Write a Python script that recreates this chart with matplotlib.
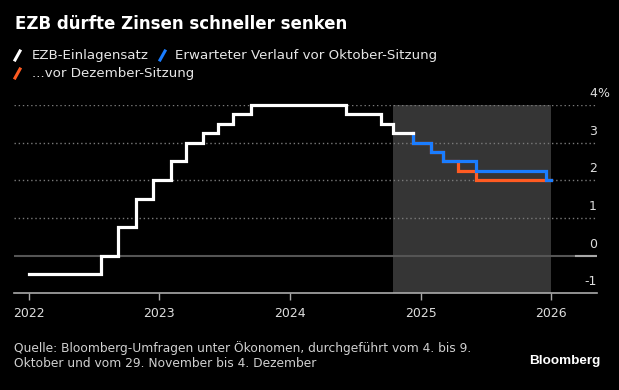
import pandas as pd
import matplotlib
matplotlib.use("Agg")
import matplotlib.pyplot as plt
import matplotlib.dates as mdates
from matplotlib.lines import Line2D

# ECB deposit rate, changes at meeting dates (%)
ecb_dates = ["2022-01-01", "2022-07-21", "2022-09-08", "2022-10-27", "2022-12-15",
             "2023-02-02", "2023-03-16", "2023-05-04", "2023-06-15", "2023-07-27",
             "2023-09-14", "2024-06-06", "2024-09-12", "2024-10-17", "2024-12-12"]
ecb_rate = [-0.5, 0.0, 0.75, 1.5, 2.0, 2.5, 3.0, 3.25, 3.5, 3.75, 4.0, 3.75, 3.5, 3.25, 3.25]

# expected path, survey before October meeting
oct_dates = ["2024-12-12", "2025-01-30", "2025-03-06", "2025-06-05", "2025-12-18"]
oct_rate = [3.0, 2.75, 2.5, 2.25, 2.0]

# expected path, survey before December meeting
dec_dates = ["2024-12-12", "2025-01-30", "2025-03-06", "2025-04-17", "2025-06-05"]
dec_rate = [3.0, 2.75, 2.5, 2.25, 2.0]

forecast_end = "2026-01-01"
shade_start = "2024-10-17"
shade_end = "2026-01-01"

yticks = [-1, 0, 1, 2, 3, 4]
xyears = [2022, 2023, 2024, 2025, 2026]

WHITE = "#ffffff"
BLUE = "#1a7dff"
ORANGE = "#ff5b22"
W, H = 619, 390

plt.rcParams["font.family"] = ["DejaVu Sans"]

fig = plt.figure(figsize=(W / 100, H / 100), dpi=100, facecolor="black")
ax = fig.add_axes([14 / W, 1 - 293.3 / H, 583 / W, 188.3 / H])
ax.set_facecolor("black")

# shaded forecast period
ax.axvspan(pd.Timestamp(shade_start), pd.Timestamp(shade_end), color="#353535", lw=0, zorder=0)

# grid
for v in yticks[2:]:
    ax.axhline(v, color="#7a7a7a", lw=1, ls=(0, (1, 2)), zorder=1)
ax.axhline(0, color="#555555", lw=1.5, zorder=1)
ax.axhline(0, xmin=0.964, xmax=1, color="#a8a8a8", lw=1.5, zorder=1)

# series
x_ecb = pd.to_datetime(ecb_dates)
ax.plot(x_ecb, ecb_rate, drawstyle="steps-post", color=WHITE, lw=2.3, zorder=5,
        solid_joinstyle="miter", clip_on=False)

x_dec = pd.to_datetime([ecb_dates[-1]] + dec_dates + [forecast_end])
y_dec = [ecb_rate[-1]] + dec_rate + [dec_rate[-1]]
ax.plot(x_dec, y_dec, drawstyle="steps-post", color=ORANGE, lw=2.3, zorder=3,
        solid_joinstyle="miter", clip_on=False)

x_oct = pd.to_datetime([ecb_dates[-1]] + oct_dates + [forecast_end])
y_oct = [ecb_rate[-1]] + oct_rate + [oct_rate[-1]]
ax.plot(x_oct, y_oct, drawstyle="steps-post", color=BLUE, lw=2.3, zorder=4,
        solid_joinstyle="miter", clip_on=False)

ax.set_xlim(pd.Timestamp("2021-11-20"), pd.Timestamp("2026-05-10"))
ax.set_ylim(-1, 4)

# axes styling
for s in ["top", "left", "right"]:
    ax.spines[s].set_visible(False)
ax.spines["bottom"].set_color("#aaaaaa")
ax.spines["bottom"].set_linewidth(1.2)
ax.set_xticks([pd.Timestamp(f"{y}-01-01") for y in xyears])
ax.xaxis.set_major_formatter(mdates.DateFormatter("%Y"))
ax.tick_params(axis="x", colors="#aaaaaa", labelcolor="#dddddd", length=5, width=1,
               pad=5, labelsize=9)
ax.set_yticks([])

# y labels sit above their gridlines, inside the right edge
for v in yticks:
    ax.annotate(str(v), xy=(1, v), xycoords=("axes fraction", "data"), xytext=(0, 8),
                textcoords="offset pixels", ha="right", va="baseline", fontsize=9,
                color="#dddddd", annotation_clip=False)
ax.annotate("%", xy=(1, yticks[-1]), xycoords=("axes fraction", "data"), xytext=(0, 8),
            textcoords="offset pixels", ha="left", va="baseline", fontsize=9,
            color="#dddddd", annotation_clip=False)

# title
fig.text(15 / W, 1 - 29 / H, "EZB dürfte Zinsen schneller senken", fontsize=12,
         fontweight="bold", color="white", ha="left", va="baseline")

# legend with slash markers
def slash(x0, base, color):
    fig.add_artist(Line2D([x0 / W, (x0 + 5) / W], [1 - (base + 1) / H, 1 - (base - 8) / H],
                          transform=fig.transFigure, color=color, lw=2.2))

slash(15, 59, WHITE)
t1 = fig.text(32 / W, 1 - 59 / H, "EZB-Einlagensatz", fontsize=9.6, color="#e6e6e6",
              ha="left", va="baseline")
fig.canvas.draw()
x1 = t1.get_window_extent().x1
slash(x1 + 11, 59, BLUE)
fig.text((x1 + 26) / W, 1 - 59 / H, "Erwarteter Verlauf vor Oktober-Sitzung", fontsize=9.6,
         color="#e6e6e6", ha="left", va="baseline")
slash(15, 77, ORANGE)
fig.text(32 / W, 1 - 77 / H, "...vor Dezember-Sitzung", fontsize=9.6, color="#e6e6e6",
         ha="left", va="baseline")

# footer
fig.text(14 / W, 1 - 352 / H, "Quelle: Bloomberg-Umfragen unter Ökonomen, durchgeführt vom 4. bis 9.",
         fontsize=8.8, color="#d0d0d0", ha="left", va="baseline")
fig.text(14 / W, 1 - 367 / H, "Oktober und vom 29. November bis 4. Dezember",
         fontsize=8.8, color="#d0d0d0", ha="left", va="baseline")
fig.text(600 / W, 1 - 364 / H, "Bloomberg", fontsize=9.7, fontweight="bold",
         family=["Liberation Sans", "DejaVu Sans"], color="white", ha="right", va="baseline")

fig.savefig("out.png", dpi=100, facecolor="black")
